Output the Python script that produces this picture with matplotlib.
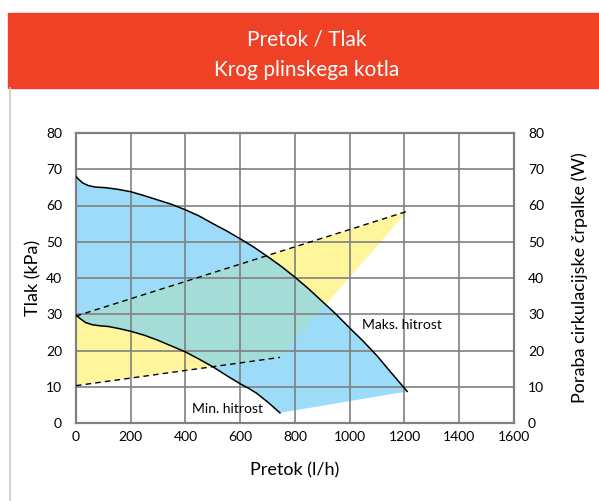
import matplotlib
matplotlib.use("Agg")
import matplotlib.pyplot as plt
import numpy as np

plt.rcParams["font.family"] = ["Lato", "DejaVu Sans"]

# Pump curves, pressure in kPa vs flow in l/h
max_flow = [0, 10, 25, 45, 70, 110, 150, 200, 250, 300, 350, 400, 450, 500, 550,
            600, 650, 700, 750, 800, 850, 900, 950, 1000, 1050, 1100, 1150, 1210]
max_kpa = [68.0, 67.2, 66.2, 65.5, 65.1, 64.9, 64.5, 63.8, 62.7, 61.5, 60.3, 58.8,
           57.1, 55.0, 53.0, 50.8, 48.5, 45.9, 43.2, 40.2, 37.0, 33.5, 30.0, 26.2,
           22.5, 18.5, 14.0, 8.7]
min_flow = [0, 15, 35, 60, 90, 120, 160, 200, 250, 300, 350, 400, 450, 500, 550,
            600, 630, 660, 700, 745]
min_kpa = [29.8, 28.8, 27.7, 27.1, 26.8, 26.6, 26.0, 25.3, 24.2, 22.8, 21.2, 19.6,
           17.6, 15.5, 13.1, 10.8, 9.6, 8.2, 5.8, 2.8]

# Pump power consumption (W)
pow_hi_flow = [0, 1210]
pow_hi_w = [29.5, 58.4]
pow_lo_flow = [0, 745]
pow_lo_w = [10.3, 18.1]

x_ticks = [0, 200, 400, 600, 800, 1000, 1200, 1400, 1600]
y_ticks = [0, 10, 20, 30, 40, 50, 60, 70, 80]

BLUE = "#9ddcf8"
YELLOW = "#fff59c"
TEAL = "#a4dcd8"
GRID = "#808080"
RED = "#ef4125"

fig = plt.figure(figsize=(5.99, 5.01), dpi=100)

# header band
fig.patches.append(plt.Rectangle((8 / 599, 1 - 88 / 501), 1, 75 / 501,
                                 transform=fig.transFigure, color=RED, zorder=0))
fig.text(0.512, 1 - 40 / 501, "Pretok / Tlak", color="white", fontsize=15,
         ha="center", va="center")
fig.text(0.512, 1 - 70 / 501, "Krog plinskega kotla", color="white", fontsize=15,
         ha="center", va="center")
fig.lines.append(plt.Line2D([9.5 / 599, 9.5 / 599], [0, 1 - 88 / 501],
                            transform=fig.transFigure, color="#c8c8c8", lw=1.2))

ax = fig.add_axes([76 / 599, 78 / 501, 438 / 599, 290 / 501])
ax.set_xlim(0, 1600)
ax.set_ylim(0, 80)

# power area (yellow)
yel_x = pow_hi_flow + pow_lo_flow[::-1]
yel_y = pow_hi_w + pow_lo_w[::-1]
yel = ax.fill(yel_x, yel_y, color=YELLOW, lw=0, zorder=1)[0]

# pump working area (blue), overlap drawn teal
blu_x = max_flow + min_flow[::-1]
blu_y = max_kpa + min_kpa[::-1]
ax.fill(blu_x, blu_y, color=BLUE, lw=0, zorder=1.5)
teal = ax.fill(blu_x, blu_y, color=TEAL, lw=0, zorder=2)[0]
teal.set_clip_path(yel)

ax.set_xticks(x_ticks)
ax.set_yticks(y_ticks)
ax.grid(True, color=GRID, lw=1.2)
ax.set_axisbelow(False)
for g in ax.get_xgridlines() + ax.get_ygridlines():
    g.set_zorder(3)

ax.plot(max_flow, max_kpa, color="black", lw=1.1, zorder=4)
ax.plot(min_flow, min_kpa, color="black", lw=1.1, zorder=4)
ax.plot(pow_hi_flow, pow_hi_w, color="black", lw=1.0, ls=(0, (4, 3)), zorder=4)
ax.plot(pow_lo_flow, pow_lo_w, color="black", lw=1.0, ls=(0, (4, 3)), zorder=4)

ax.text(1045, 27, "Maks. hitrost", fontsize=10, va="center", ha="left", zorder=5)
ax.text(423, 3.8, "Min. hitrost", fontsize=10, va="center", ha="left", zorder=5)

for s in ax.spines.values():
    s.set_color(GRID)
    s.set_linewidth(1.6)
ax.tick_params(length=0, labelsize=10, colors="black")
ax.tick_params(axis="y", pad=10)
ax.tick_params(axis="x", pad=6)
ax.set_xlabel("Pretok (l/h)", fontsize=13, labelpad=14)
ax.set_ylabel("Tlak (kPa)", fontsize=13, labelpad=3)

ax2 = ax.twinx()
ax2.set_ylim(0, 80)
ax2.set_yticks(y_ticks)
ax2.tick_params(length=0, labelsize=10, pad=10)
for s in ax2.spines.values():
    s.set_visible(False)
ax2.set_ylabel("Poraba cirkulacijske črpalke (W)", fontsize=13, labelpad=20)

fig.savefig("out.png", dpi=100)
